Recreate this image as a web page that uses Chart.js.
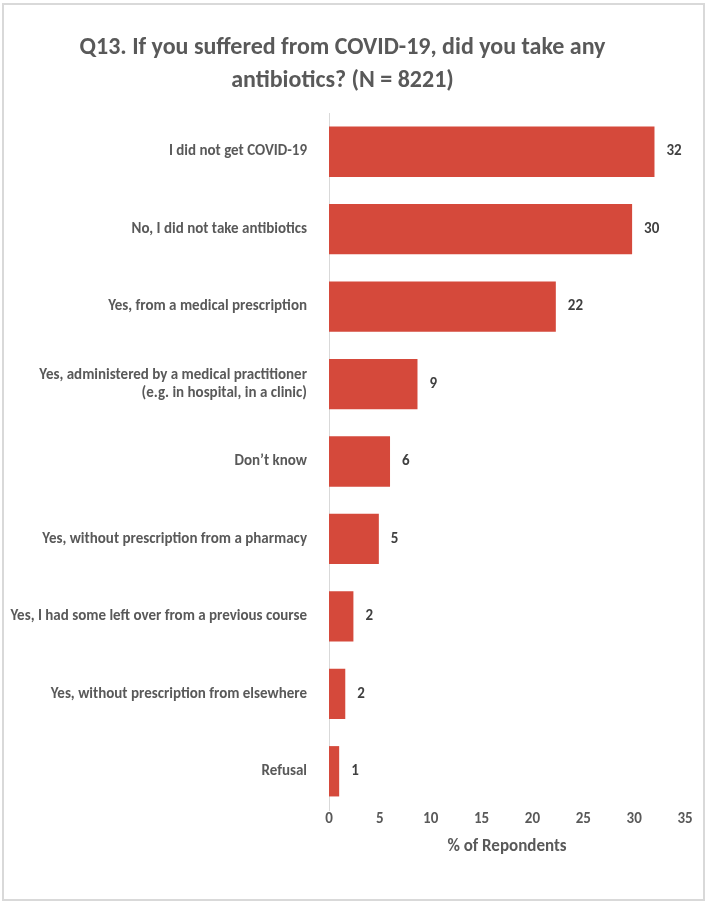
<!DOCTYPE html>
<html lang="en">
<head>
    <meta charset="UTF-8">
    <title>Q13 antibiotics chart</title>
    <script src="https://cdn.jsdelivr.net/npm/chart.js"></script>
    <style>
        body { margin: 0; background: #fff; }
    </style>
</head>
<body>
    <canvas id="q13Chart" width="708" height="903"></canvas>
    <script>
        const categories = [
            'I did not get COVID-19',
            'No, I did not take antibiotics',
            'Yes, from a medical prescription',
            ['Yes, administered by a medical practitioner', '(e.g. in hospital, in a clinic)'],
            'Don\u2019t know',
            'Yes, without prescription from a pharmacy',
            'Yes, I had some left over from a previous course',
            'Yes, without prescription from elsewhere',
            'Refusal'
        ];
        const respondentsPct = [32.0, 29.8, 22.3, 8.7, 6.0, 4.9, 2.4, 1.6, 1.0];
        const xTicks = [0, 5, 10, 15, 20, 25, 30, 35];

        const textGrey = '#595959';
        const fontFamily = 'Carlito, Lato, sans-serif';

        // value labels at the end of each bar
        const barLabels = {
            id: 'barLabels',
            afterDatasetsDraw(chart) {
                const ctx = chart.ctx;
                const meta = chart.getDatasetMeta(0);
                ctx.save();
                ctx.font = 'bold 15px ' + fontFamily;
                ctx.fillStyle = '#404040';
                ctx.textAlign = 'left';
                ctx.textBaseline = 'middle';
                meta.data.forEach((bar, i) => {
                    ctx.fillText(Math.round(respondentsPct[i]), bar.x + 12, bar.y);
                });
                ctx.restore();
            }
        };

        // light frame round the whole chart
        const frame = {
            id: 'frame',
            afterDraw(chart) {
                const ctx = chart.ctx;
                ctx.save();
                ctx.strokeStyle = '#D9D9D9';
                ctx.lineWidth = 2;
                ctx.strokeRect(3, 4, 701, 896);
                ctx.restore();
            }
        };

        const ctx = document.getElementById('q13Chart').getContext('2d');
        const chart = new Chart(ctx, {
            type: 'bar',
            data: {
                labels: categories,
                datasets: [{
                    data: respondentsPct,
                    backgroundColor: '#D5493B',
                    categoryPercentage: 1,
                    barPercentage: 0.65
                }]
            },
            options: {
                indexAxis: 'y',
                responsive: false,
                animation: false,
                layout: { padding: { left: 0, right: 23, top: 0, bottom: 43 } },
                plugins: {
                    legend: { display: false },
                    tooltip: { enabled: false },
                    title: {
                        display: true,
                        text: ['Q13. If you suffered from COVID-19, did you take any', 'antibiotics? (N = 8221)'],
                        color: textGrey,
                        font: { family: fontFamily, size: 24, weight: 'bold', lineHeight: 1.375 },
                        padding: { top: 31, bottom: 16 }
                    }
                },
                scales: {
                    x: {
                        min: 0,
                        max: 35,
                        afterBuildTicks(scale) {
                            scale.ticks = xTicks.map(v => ({ value: v }));
                        },
                        afterFit(scale) { scale.height = 50; },
                        grid: { display: false, drawTicks: false, tickLength: 0 },
                        border: { display: false },
                        ticks: {
                            color: textGrey,
                            font: { family: fontFamily, size: 15, weight: 'bold' },
                            padding: 0
                        },
                        title: {
                            display: true,
                            text: '% of Repondents',
                            color: textGrey,
                            font: { family: fontFamily, size: 17, weight: 'bold' },
                            padding: { top: 0, bottom: 3 }
                        }
                    },
                    y: {
                        afterFit(scale) { scale.width = 329; },
                        grid: { display: false },
                        border: { display: true, color: '#D9D9D9', width: 1 },
                        ticks: {
                            color: textGrey,
                            font: { family: fontFamily, size: 15, weight: 'bold' },
                            padding: 14
                        }
                    }
                }
            },
            plugins: [barLabels, frame]
        });
    </script>
</body>
</html>
